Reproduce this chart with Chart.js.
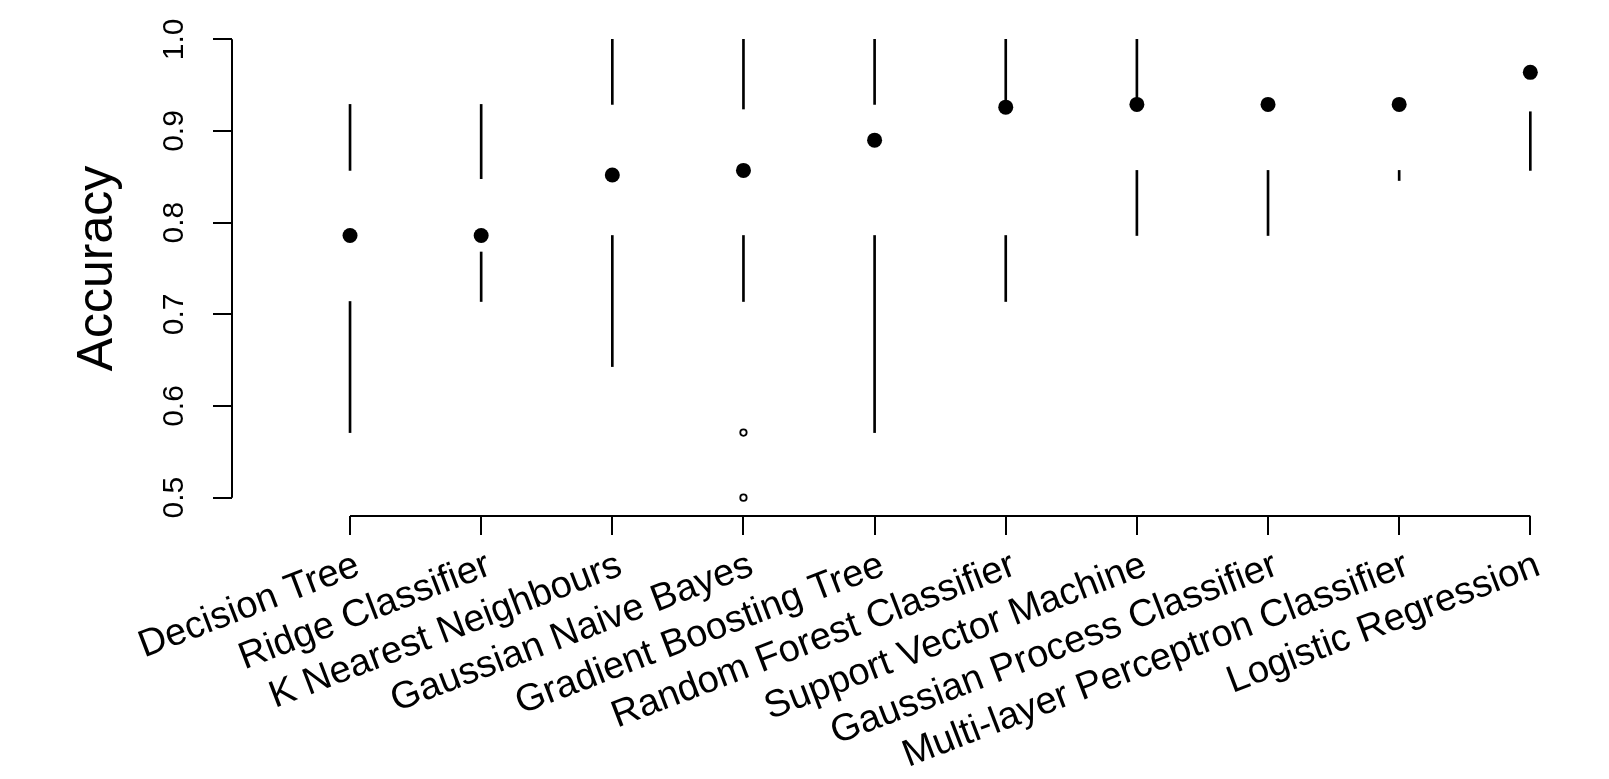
<!DOCTYPE html>
<html>
<head>
<meta charset="utf-8">
<script src="https://cdn.jsdelivr.net/npm/chart.js@4/dist/chart.umd.min.js"></script>
<style>
  html, body { margin: 0; padding: 0; background: #fff; overflow: hidden; }
  #wrap { width: 1609px; height: 779px; position: relative; }
</style>
</head>
<body>
<div id="wrap"><canvas id="chart"></canvas></div>
<script>
// ── Data ──────────────────────────────────────────────────
const categories = [
  "Decision Tree", "Ridge Classifier", "K Nearest Neighbours", "Gaussian Naive Bayes",
  "Gradient Boosting Tree", "Random Forest Classifier", "Support Vector Machine",
  "Gaussian Process Classifier", "Multi-layer Perceptron Classifier", "Logistic Regression",
];
const whiskerLow  = [0.571, 0.714, 0.643, 0.714, 0.571, 0.714, 0.786, 0.786, 0.846, 0.857];
const lowerQuart  = [0.714, 0.768, 0.786, 0.786, 0.786, 0.786, 0.857, 0.857, 0.857, 0.921];
const medians     = [0.786, 0.786, 0.852, 0.857, 0.890, 0.926, 0.929, 0.929, 0.929, 0.964];
const upperQuart  = [0.857, 0.848, 0.929, 0.924, 0.929, 0.926, 0.929, 0.929, 0.929, 0.964];
const whiskerHigh = [0.929, 0.929, 1.000, 1.000, 1.000, 1.000, 1.000, 0.929, 0.929, 0.964];
const outlierCat  = [4, 4];
const outlierVals = [0.571, 0.500];

const xTicks = [1, 2, 3, 4, 5, 6, 7, 8, 9, 10];
const yTicks = [0.5, 0.6, 0.7, 0.8, 0.9, 1.0];

// ── Build datasets ────────────────────────────────────────
const lowerSegs = categories.map((_, i) => ({ x: i + 1, y: [whiskerLow[i], lowerQuart[i]] }))
  .filter(d => d.y[1] > d.y[0]);
const upperSegs = categories.map((_, i) => ({ x: i + 1, y: [upperQuart[i], whiskerHigh[i]] }))
  .filter(d => d.y[1] > d.y[0]);
const medianPts  = medians.map((v, i) => ({ x: i + 1, y: v }));
const outlierPts = outlierVals.map((v, i) => ({ x: outlierCat[i], y: v }));

const FONT = "'Liberation Sans', Arial, Helvetica, sans-serif";

// ── Axis lines only between first and last tick (R style) ─
const axisLines = {
  id: "axisLines",
  afterDraw(chart) {
    const { ctx, chartArea, scales: { x, y } } = chart;
    ctx.save();
    ctx.strokeStyle = "#000";
    ctx.lineWidth = 2;
    ctx.beginPath();
    ctx.moveTo(x.getPixelForValue(xTicks[0]), chartArea.bottom);
    ctx.lineTo(x.getPixelForValue(xTicks[xTicks.length - 1]), chartArea.bottom);
    ctx.moveTo(chartArea.left, y.getPixelForValue(yTicks[0]));
    ctx.lineTo(chartArea.left, y.getPixelForValue(yTicks[yTicks.length - 1]));
    ctx.stroke();
    ctx.restore();
  },
};

new Chart(document.getElementById("chart"), {
  type: "bar",
  data: {
    datasets: [
      { type: "scatter", data: medianPts, pointRadius: 7.5, pointBackgroundColor: "#000",
        pointBorderWidth: 0, order: 0 },
      { type: "scatter", data: outlierPts, pointRadius: 3.2, pointBackgroundColor: "#fff",
        pointBorderColor: "#000", pointBorderWidth: 1.8, order: 0 },
      { data: lowerSegs, backgroundColor: "#000", barThickness: 2, grouped: false, order: 1 },
      { data: upperSegs, backgroundColor: "#000", barThickness: 2, grouped: false, order: 1 },
    ],
  },
  options: {
    responsive: true,
    maintainAspectRatio: false,
    animation: false,
    layout: { autoPadding: false, padding: { top: 21, left: 0, right: 0, bottom: 0 } },
    plugins: { legend: { display: false }, tooltip: { enabled: false } },
    scales: {
      x: {
        type: "linear",
        min: 0.1, max: 10.6,
        offset: false,
        afterBuildTicks: s => { s.ticks = xTicks.map(v => ({ value: v })); },
        afterFit: s => { s.height = 263; s.paddingLeft = 0; s.paddingRight = 0; },
        border: { display: false },
        grid: { offset: false, drawOnChartArea: false, drawTicks: true, tickLength: 19,
                color: "#000", lineWidth: 2 },
        ticks: {
          autoSkip: false, minRotation: 21, maxRotation: 21, padding: 8, labelOffset: 8,
          color: "#000", font: { family: FONT, size: 38 },
          callback: (v, i) => categories[i],
        },
      },
      y: {
        type: "linear",
        min: 0.48, max: 1.02,
        beginAtZero: false,
        afterBuildTicks: s => { s.ticks = yTicks.map(v => ({ value: v })); },
        afterFit: s => { s.width = 232; s.paddingTop = 0; s.paddingBottom = 0; },
        border: { display: false },
        grid: { drawOnChartArea: false, drawTicks: true, tickLength: 19,
                color: "#000", lineWidth: 2 },
        ticks: {
          minRotation: 90, maxRotation: 90, crossAlign: "center", padding: 17,
          color: "#000", font: { family: FONT, size: 30 },
          callback: v => v.toFixed(1),
        },
        title: {
          display: true, text: "Accuracy", color: "#000",
          font: { family: FONT, size: 50, lineHeight: 1.2 },
          padding: { top: 68, bottom: 0 },
        },
      },
    },
  },
  plugins: [axisLines],
});
</script>
</body>
</html>
